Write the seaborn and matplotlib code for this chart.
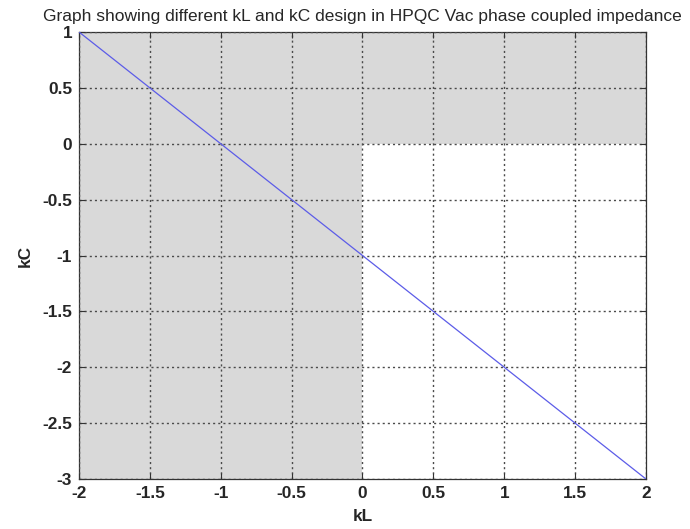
import matplotlib
matplotlib.use("Agg")
import matplotlib.pyplot as plt
import seaborn as sns
import pandas as pd

# Design line: kC as a function of kL
kL = [-2.0, -1.5, -1.0, -0.5, 0.0, 0.5, 1.0, 1.5, 2.0]
kC = [1.0, 0.5, 0.0, -0.5, -1.0, -1.5, -2.0, -2.5, -3.0]

# Shaded (excluded) design region: left half plus upper-right quadrant
shade_left_x = [-2.0, 0.0]
shade_left_lo = [-3.0, -3.0]
shade_left_hi = [1.0, 1.0]
shade_right_x = [0.0, 2.0]
shade_right_lo = [0.0, 0.0]
shade_right_hi = [1.0, 1.0]

x_ticks = [-2, -1.5, -1, -0.5, 0, 0.5, 1, 1.5, 2]
y_ticks = [-3, -2.5, -2, -1.5, -1, -0.5, 0, 0.5, 1]

sns.set_style("white")
plt.rcParams["font.family"] = ["Liberation Sans", "DejaVu Sans"]

fig = plt.figure(figsize=(6.9, 5.29), dpi=100)
ax = fig.add_axes([0.1145, 0.0945, 0.8217, 0.845])

shade = "#d9d9d9"
ax.fill_between(shade_left_x, shade_left_lo, shade_left_hi, color=shade, lw=0, zorder=0)
ax.fill_between(shade_right_x, shade_right_lo, shade_right_hi, color=shade, lw=0, zorder=0)

df = pd.DataFrame({"kL": kL, "kC": kC})
sns.lineplot(data=df, x="kL", y="kC", ax=ax, color="#5c5ce8", lw=0.9, zorder=3)

ax.set_xlim(-2, 2)
ax.set_ylim(-3, 1)
ax.set_xticks(x_ticks)
ax.set_yticks(y_ticks)
ax.set_xticklabels([f"{v:g}" for v in x_ticks], fontsize=12.4, fontweight="bold")
ax.set_yticklabels([f"{v:g}" for v in y_ticks], fontsize=12.4, fontweight="bold")
ax.grid(True, color="#4a4a4a", linestyle=(0, (1.5, 2.2)), linewidth=1.0, zorder=1)
ax.set_axisbelow(False)
ax.tick_params(direction="in", length=4, width=0.8, color="#333333", pad=5,
               top=True, right=True, bottom=True, left=True)
for s in ax.spines.values():
    s.set_color("#333333")
    s.set_linewidth(0.9)
    s.set_visible(True)

ax.set_xlabel("kL", fontsize=12.4, fontweight="bold", labelpad=6)
ax.set_ylabel("kC", fontsize=12.4, fontweight="bold", labelpad=7)
ax.set_title("Graph showing different kL and kC design in HPQC Vac phase coupled impedance",
             fontsize=12.5, pad=8)

fig.savefig("out.png", dpi=100)
